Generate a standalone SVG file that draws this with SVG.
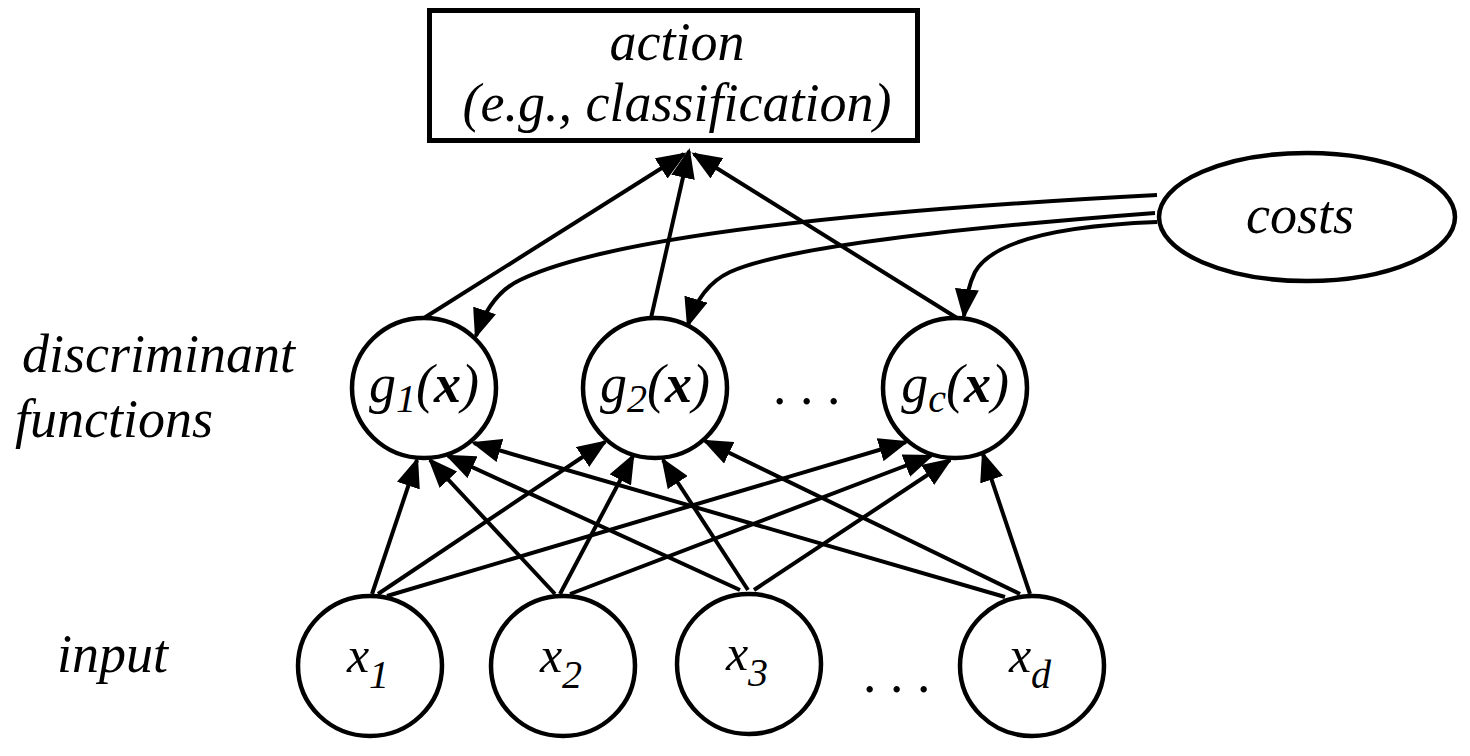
<svg xmlns="http://www.w3.org/2000/svg" width="1470" height="756" viewBox="0 0 1470 756">
<style>
text{font-family:"Liberation Serif","Times New Roman",serif;font-style:italic;font-size:54px;fill:#000}
.sub{font-size:40px}
.xs{font-size:50px}
.node{fill:#fff;stroke:#000;stroke-width:4.5}
.edge{fill:none;stroke:#000;stroke-width:4;marker-end:url(#ah)}
</style>
<defs>
<marker id="ah" markerUnits="userSpaceOnUse" markerWidth="30" markerHeight="24" refX="27" refY="12" orient="auto">
<path d="M0,0 L30,12 L0,24 z" fill="#000"/>
</marker>
</defs>
<rect width="1470" height="756" fill="#fff"/>
<g id="connectors">
<line class="edge" x1="424" y1="318" x2="684" y2="154"/>
<line class="edge" x1="651" y1="318" x2="689" y2="151"/>
<line class="edge" x1="957" y1="318" x2="694" y2="154"/>
<path class="edge" d="M1157,195 Q640,222 520,280 Q490,294 476,336"/>
<path class="edge" d="M1155,213 Q800,240 730,272 Q700,286 688,325"/>
<path class="edge" d="M1157,222 Q1000,228 975,272 Q967,288 964,316"/>
<line class="edge" x1="372" y1="594" x2="417" y2="460"/>
<line class="edge" x1="378" y1="594" x2="605" y2="442"/>
<line class="edge" x1="387" y1="596" x2="906" y2="442"/>
<line class="edge" x1="555" y1="594" x2="430" y2="460"/>
<line class="edge" x1="560" y1="594" x2="633" y2="456"/>
<line class="edge" x1="570" y1="594" x2="931" y2="456"/>
<line class="edge" x1="740" y1="590" x2="448" y2="456"/>
<line class="edge" x1="748" y1="590" x2="663" y2="460"/>
<line class="edge" x1="754" y1="590" x2="950" y2="460"/>
<line class="edge" x1="1005" y1="597" x2="474" y2="443"/>
<line class="edge" x1="1020" y1="594" x2="705" y2="441"/>
<line class="edge" x1="1030" y1="594" x2="983" y2="454"/>
</g>
<g id="action">
<rect x="429.5" y="10.5" width="488" height="130" fill="#fff" stroke="#000" stroke-width="5"/>
<text x="677" y="60" text-anchor="middle">action</text>
<text x="677" y="121" text-anchor="middle">(e.g., classification)</text>
</g>
<g id="costs">
<ellipse class="node" cx="1307" cy="217" rx="148" ry="64"/>
<text x="1300" y="233" text-anchor="middle">costs</text>
</g>
<g id="g1">
<ellipse class="node" cx="424" cy="388" rx="72" ry="70"/>
<text x="424" y="402" text-anchor="middle">g<tspan class="sub" dy="10">1</tspan><tspan dy="-10">(</tspan><tspan font-weight="bold">x</tspan>)</text>
</g>
<g id="g2">
<ellipse class="node" cx="655" cy="388" rx="72" ry="70"/>
<text x="655" y="402" text-anchor="middle">g<tspan class="sub" dy="10">2</tspan><tspan dy="-10">(</tspan><tspan font-weight="bold">x</tspan>)</text>
</g>
<g id="gc">
<ellipse class="node" cx="955" cy="388" rx="72" ry="70"/>
<text x="955" y="402" text-anchor="middle">g<tspan class="sub" dy="10">c</tspan><tspan dy="-10">(</tspan><tspan font-weight="bold">x</tspan>)</text>
</g>
<g id="gdots"><text x="808" y="404" text-anchor="middle">. . .</text></g>
<g id="x1">
<ellipse class="node" cx="370" cy="666" rx="72" ry="70"/>
<text class="xs" x="368" y="672" text-anchor="middle">x<tspan class="sub" dy="16">1</tspan></text>
</g>
<g id="x2">
<ellipse class="node" cx="563" cy="666" rx="72" ry="70"/>
<text class="xs" x="561" y="672" text-anchor="middle">x<tspan class="sub" dy="16">2</tspan></text>
</g>
<g id="x3">
<ellipse class="node" cx="749" cy="664" rx="72" ry="70"/>
<text class="xs" x="747" y="670" text-anchor="middle">x<tspan class="sub" dy="16">3</tspan></text>
</g>
<g id="xdots"><text x="898" y="692" text-anchor="middle">. . .</text></g>
<g id="xd">
<ellipse class="node" cx="1032" cy="666" rx="72" ry="70"/>
<text class="xs" x="1030" y="672" text-anchor="middle">x<tspan class="sub" dy="16">d</tspan></text>
</g>
<g id="labels">
<text x="22" y="372">discriminant</text>
<text x="15" y="437">functions</text>
<text x="57" y="672">input</text>
</g>
</svg>
